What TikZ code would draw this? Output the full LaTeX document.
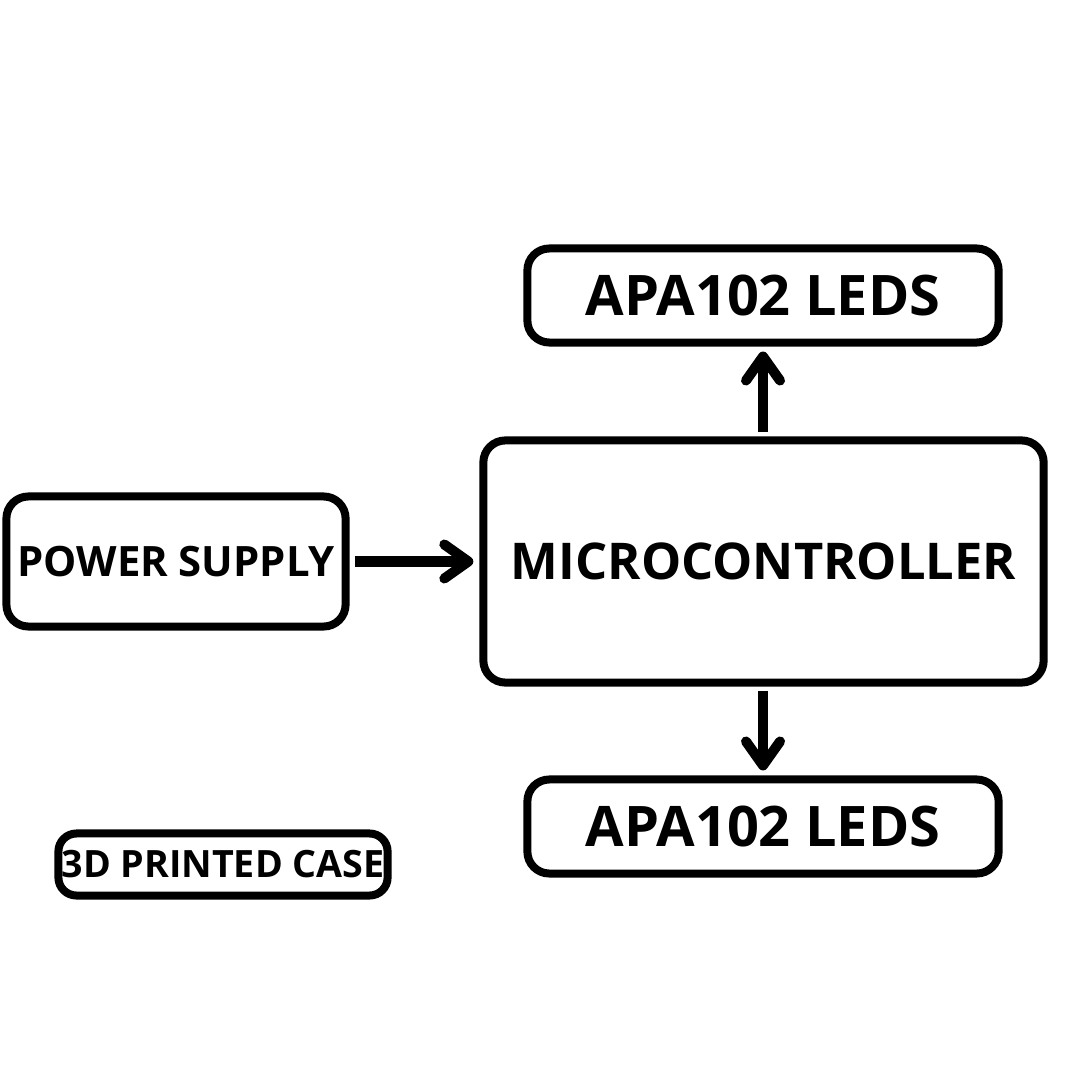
\documentclass[tikz,border=0pt]{standalone}
\usepackage{fontspec}
\setmainfont{Open Sans}[BoldFont={* Bold}]
\usepackage{tikz}
\usetikzlibrary{arrows.meta,positioning,calc}
\tikzstyle{block}=[draw,fill=white,rounded corners=0.22cm,line width=0.08cm,inner sep=0pt,font=\bfseries]
\tikzstyle{link}=[line width=0.1cm,-{Straight Barb[length=0.24cm,width=0.34cm,line width=0.1cm,round]}]

\begin{document}
\begin{tikzpicture}[x=0.01cm,y=-0.01cm]
\useasboundingbox[fill=white] (0,0) rectangle (1080,1080);
\node [block,minimum width=5.6cm,minimum height=2.42cm,font=\bfseries\fontsize{14.4}{16}\selectfont] (mc) at (763.5,561.5) {MICROCONTROLLER};
\node [block,minimum width=4.71cm,minimum height=0.94cm,font=\bfseries\fontsize{15.9}{18}\selectfont] (top) at (763,295.5) {APA102 LEDS};
\node [block,minimum width=4.71cm,minimum height=0.94cm,font=\bfseries\fontsize{15.9}{18}\selectfont] (bot) at (763,826.5) {APA102 LEDS};
\node [block,minimum width=3.39cm,minimum height=1.30cm,font=\bfseries\fontsize{11.9}{14}\selectfont] (ps) at (176,561.5) {POWER SUPPLY};
\node [block,minimum width=3.29cm,minimum height=0.62cm,rounded corners=0.18cm,font=\bfseries\fontsize{10.7}{13}\selectfont] (case) at (223,864.5) {3D PRINTED CASE};
% connections
\draw [link,shorten <=0.05cm,shorten >=0.06cm] (ps.east) -- (mc.west);
\draw [link,shorten <=0.04cm,shorten >=0.05cm] (mc.north -| top.south) -- (top.south);
\draw [link,shorten <=0.04cm,shorten >=0.05cm] (mc.south -| bot.north) -- (bot.north);
\end{tikzpicture}
\end{document}
